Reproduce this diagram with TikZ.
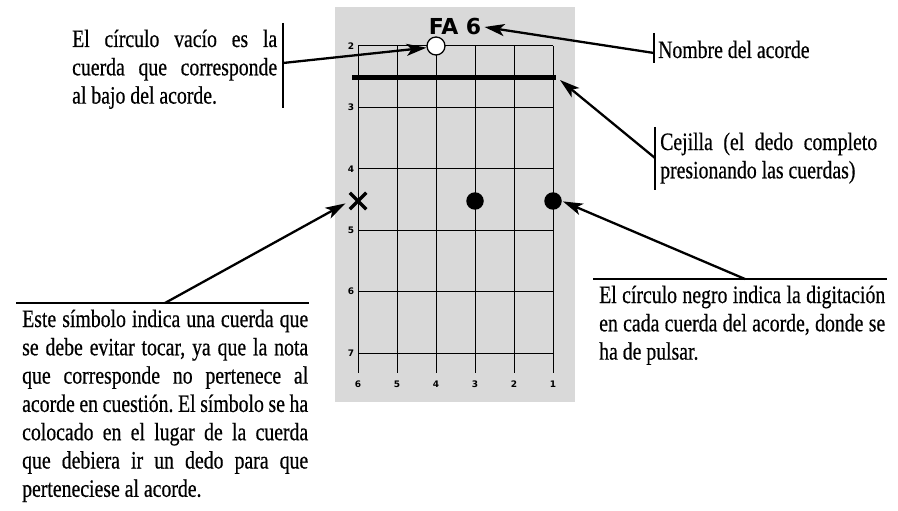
\documentclass[tikz,border=0pt]{standalone}
\usepackage{fontspec}
\setmainfont[FakeStretch=0.79,FakeBold=0.5]{Liberation Serif}
\newfontfamily\diagfont{DejaVu Sans}
\usetikzlibrary{arrows.meta,positioning,shapes.misc}
\definecolor{fondo}{RGB}{217,217,217}
\hyphenpenalty=10000
\frenchspacing

\begin{document}
\begin{tikzpicture}[x=1pt,y=-1pt,
  flecha/.style={line width=2.3pt,-{Stealth[length=20pt,width=12pt,inset=5pt]}},
  barra/.style={line width=2.8pt},
  nota/.style={inner sep=0pt,anchor=base west,font=\fontsize{25}{28.3}\selectfont},
  bloque/.style={nota,align=justify,text width=#1},
  traste/.style={inner sep=0pt,font=\diagfont\bfseries\fontsize{9}{9}\selectfont}]
  \useasboundingbox (0,0) rectangle (898,511);
  \fill[fondo] (335,7) rectangle (575,402);
  \foreach \i/\n in {0/6,1/5,2/4,3/3,4/2,5/1} {
    \draw[line width=1pt] (358+39*\i,46) -- (358+39*\i,373);
    \node[traste] at (358+39*\i,384) {\n};
  }
  \foreach \j [evaluate=\j as \n using int(\j+2)] in {0,...,5} {
    \draw[line width=1pt] (358,46+61.4*\j) -- (553,46+61.4*\j);
    \node[traste] at (351,46+61.4*\j) {\n};
  }
  \draw[line width=5pt] (352,78) -- (556,78);
  \coordinate (cejilla) at (560,80);
  \node[inner sep=3pt,font=\diagfont\bfseries\fontsize{22}{22}\selectfont] (acorde) at (455,27) {FA 6};
  \node[circle,draw,fill=white,line width=1.3pt,minimum size=18pt,inner sep=0pt] (vacio) at (436,46) {};
  \node[cross out,draw,line width=3.5pt,minimum size=13pt,inner sep=0pt] (equis) at (358,201) {};
  \node[circle,fill,minimum size=17.5pt,inner sep=0pt] (dedo3) at (475,201) {};
  \node[circle,fill,minimum size=17.5pt,inner sep=0pt] (dedo1) at (553,201) {};

  \node[bloque=205pt] (txtvacio) at (72,47) {El círculo vacío es la\linebreak cuerda que corresponde\linebreak al bajo del acorde.};
  \node[nota] (txtnombre) at (658,58) {Nombre del acorde};
  \node[bloque=217pt] (txtcejilla) at (660,150) {Cejilla (el dedo completo\linebreak presionando las cuerdas)};
  \node[bloque=286pt] (txtequis) at (22,327) {Este símbolo indica una cuerda que\linebreak se debe evitar tocar, ya que la nota\linebreak que corresponde no pertenece al\linebreak acorde en cuestión. El símbolo se ha\linebreak colocado en el lugar de la cuerda\linebreak que debiera ir un dedo para que\linebreak perteneciese al acorde.};
  \node[bloque=286pt] (txtdedo) at (599,303) {El círculo negro indica la digitación\linebreak en cada cuerda del acorde, donde se\linebreak ha de pulsar.};

  \coordinate (pvacio) at (283,63);
  \coordinate (pnombre) at (654,53);
  \coordinate (pcejilla) at (655,158);
  \coordinate (pequis) at (165,303);
  \coordinate (pdedo) at (745,279);
  \draw[barra] (283,23) -- (283,108);
  \draw[barra] (654,33) -- (654,63);
  \draw[barra] (655,127) -- (655,190);
  \draw[barra] (16,303) -- (309,303);
  \draw[barra] (593,279) -- (887,279);
  \draw[flecha] (pvacio) -- (vacio.190);
  \draw[flecha] (pnombre) -- (acorde.east);
  \draw[flecha] (pcejilla) -- (cejilla);
  \draw[flecha,shorten >=5pt] (pequis) -- (equis.west);
  \draw[flecha,shorten >=1pt] (pdedo) -- (dedo1.east);
\end{tikzpicture}
\end{document}
